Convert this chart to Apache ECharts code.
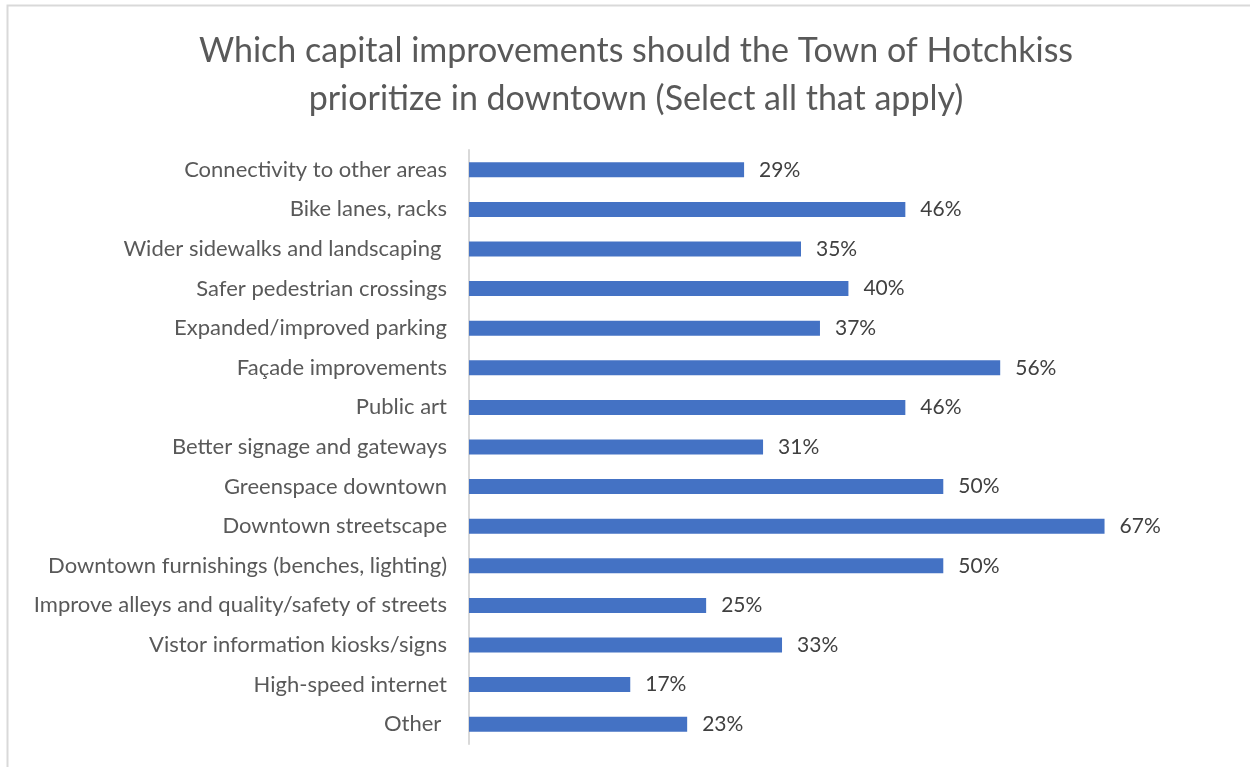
<!DOCTYPE html>
<html>
<head>
<meta charset="UTF-8">
<title>Capital improvements</title>
<script src="https://cdn.jsdelivr.net/npm/echarts@6/dist/echarts.min.js"></script>
<style>
  * { margin: 0; padding: 0; }
  body { background: #fff; }
  #main { width: 1250px; height: 767px; }
</style>
</head>
<body>
<div id="main"></div>
<script>
var categories = [
  'Connectivity to other areas',
  'Bike lanes, racks',
  'Wider sidewalks and landscaping ',
  'Safer pedestrian crossings',
  'Expanded/improved parking',
  'Façade improvements',
  'Public art',
  'Better signage and gateways',
  'Greenspace downtown',
  'Downtown streetscape',
  'Downtown furnishings (benches, lighting)',
  'Improve alleys and quality/safety of streets',
  'Vistor information kiosks/signs',
  'High-speed internet',
  'Other '
];
var values = [29, 46, 35, 40, 37, 56, 46, 31, 50, 67, 50, 25, 33, 17, 23];

var font = 'Lato, "Open Sans", sans-serif';
var chart = echarts.init(document.getElementById('main'));

chart.setOption({
  animation: false,
  title: {
    text: 'Which capital improvements should the Town of Hotchkiss\nprioritize in downtown (Select all that apply)',
    left: 631,
    textAlign: 'center',
    top: 22,
    textStyle: {
      fontFamily: font,
      fontSize: 34,
      fontWeight: 'normal',
      color: '#595959',
      lineHeight: 48
    }
  },
  graphic: [{
    type: 'rect',
    shape: { x: 7.5, y: 5.5, width: 1300, height: 800 },
    style: { fill: 'none', stroke: '#d9d9d9', lineWidth: 2 },
    silent: true
  }],
  grid: { left: 469, top: 150, width: 664, height: 594 },
  xAxis: {
    type: 'value',
    min: 0,
    max: 70,
    show: false
  },
  yAxis: {
    type: 'category',
    data: categories,
    inverse: true,
    axisLine: { show: true, lineStyle: { color: '#d9d9d9', width: 2 } },
    axisTick: { show: false },
    axisLabel: {
      fontFamily: font,
      fontSize: 22,
      color: '#595959',
      margin: 22
    }
  },
  series: [{
    type: 'bar',
    data: values,
    barWidth: 15,
    itemStyle: { color: '#4472C4' },
    label: {
      show: true,
      position: 'right',
      distance: 15,
      formatter: '{c}%',
      fontFamily: font,
      fontSize: 21,
      color: '#404040'
    }
  }]
});
</script>
</body>
</html>
